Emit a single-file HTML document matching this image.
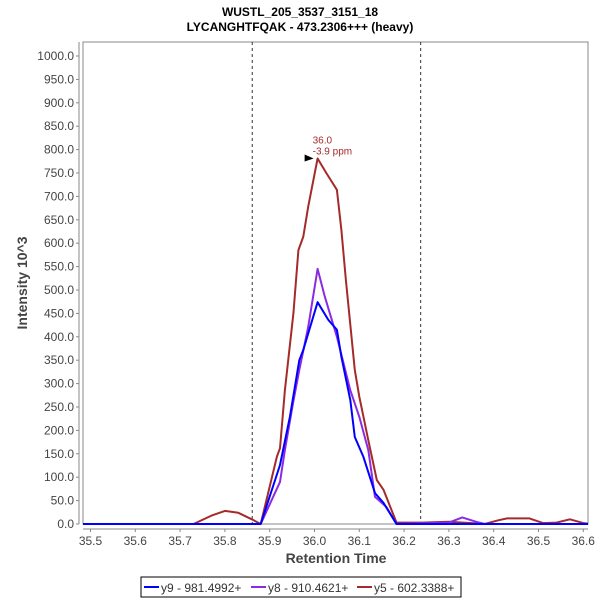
<!DOCTYPE html>
<html><head><meta charset="utf-8"><style>
body{margin:0;background:#fff;}
svg{font-family:"Liberation Sans",sans-serif;}
</style></head><body>
<svg id="chart" width="600" height="600" xmlns="http://www.w3.org/2000/svg">
<defs><clipPath id="pc"><rect x="83" y="42" width="505" height="484"/></clipPath></defs>
<rect width="600" height="600" fill="#fff"/>
<text x="300" y="16" text-anchor="middle" font-size="12" font-weight="bold">WUSTL_205_3537_3151_18</text>
<text x="300" y="31" text-anchor="middle" font-size="12" font-weight="bold">LYCANGHTFQAK - 473.2306+++ (heavy)</text>
<rect x="83" y="42" width="505" height="482" fill="#fff" stroke="#888" stroke-width="1"/>
<g id="yaxis"></g>
<g id="xaxis"></g>
<g id="series" clip-path="url(#pc)"></g>
<g id="annot"></g>
<text transform="translate(27,283) rotate(-90)" text-anchor="middle" font-size="14" font-weight="bold" fill="#444">Intensity 10^3</text>
<text x="336" y="563" text-anchor="middle" font-size="14" font-weight="bold" fill="#444">Retention Time</text>
<g>
<rect x="141" y="577" width="320" height="20" fill="#fff" stroke="#000" stroke-width="1"/>
<g><line x1="144" y1="587" x2="159" y2="587" stroke="#0000ff" stroke-width="2"/><text x="161" y="592" font-size="12" fill="#333">y9 - 981.4992+</text></g>
<g><line x1="251" y1="587" x2="266" y2="587" stroke="#8a2be2" stroke-width="2"/><text x="268" y="592" font-size="12" fill="#333">y8 - 910.4621+</text></g>
<g><line x1="357" y1="587" x2="372" y2="587" stroke="#a52a2a" stroke-width="2"/><text x="374" y="592" font-size="12" fill="#333">y5 - 602.3388+</text></g>
</g>
</svg>
<script>
const xTicks=[35.5,35.6,35.7,35.8,35.9,36.0,36.1,36.2,36.3,36.4,36.5,36.6];
const yTicks=[0,50,100,150,200,250,300,350,400,450,500,550,600,650,700,750,800,850,900,950,1000];
const boundaries=[35.861,36.237];
const y9T=[35.48,35.88,35.923,35.945,35.966,35.975,36.007,36.031,36.05,36.06,36.08,36.09,36.109,36.135,36.154,36.183,36.62];
const y9V=[0,0,126,229,350,372,474,436,415,357,265,186,144,66,45,0,0];
const y8T=[35.48,35.88,35.923,35.934,35.952,35.966,35.986,36.007,36.023,36.05,36.08,36.1,36.12,36.135,36.16,36.183,36.3,36.33,36.36,36.38,36.62];
const y8V=[0,0,90,158,258,329,421,545,486,400,286,229,158,58,37,0,3,14,5,0,0];
const y5T=[35.48,35.73,35.77,35.8,35.83,35.86,35.88,35.916,35.923,35.934,35.953,35.964,35.975,35.986,36.007,36.027,36.05,36.06,36.07,36.09,36.1,36.12,36.139,36.154,36.183,36.24,36.3,36.35,36.38,36.41,36.43,36.48,36.51,36.54,36.57,36.6,36.62];
const y5V=[0,0,18,28,24,10,0,144,162,286,450,585,614,678,781,749,714,628,521,329,272,179,94,73,3,3,5,2,0,8,12,12,2,3,10,2,0];
const NS="http://www.w3.org/2000/svg";
const X=v=>90.5+(v-35.5)*448;
const Y=v=>524-v*0.468;
function mk(tag,attrs,parent){const e=document.createElementNS(NS,tag);for(const k in attrs)e.setAttribute(k,attrs[k]);parent.appendChild(e);return e;}
const ya=document.getElementById('yaxis'),xa=document.getElementById('xaxis'),sg=document.getElementById('series'),an=document.getElementById('annot');
mk('line',{x1:79,y1:42,x2:79,y2:524,stroke:'#888'},ya);
yTicks.forEach(t=>{
 mk('line',{x1:76,y1:Y(t),x2:79,y2:Y(t),stroke:'#888'},ya);
 const tx=mk('text',{x:74,y:Y(t)+4,'text-anchor':'end','font-size':'12',fill:'#444'},ya);
 tx.textContent=t.toFixed(1);
 
 
});
mk('line',{x1:83,y1:529,x2:588,y2:529,stroke:'#888'},xa);
xTicks.forEach(t=>{
 mk('line',{x1:X(t),y1:529,x2:X(t),y2:532,stroke:'#888'},xa);
 const tx=mk('text',{x:X(t),y:545,'text-anchor':'middle','font-size':'12',fill:'#444'},xa);
 tx.textContent=t.toFixed(1);
 
 
});
boundaries.forEach(b=>{
 const l=mk('line',{x1:X(b),y1:42,x2:X(b),y2:524,stroke:'#333','stroke-dasharray':'3,3'},sg);
 
 
});
function line(T,V,color,name){
 const d=T.map((t,i)=>(i?'L':'M')+X(t).toFixed(1)+','+Y(V[i]).toFixed(1)).join('');
 const p=mk('path',{d:d,fill:'none',stroke:color,'stroke-width':'2','stroke-linejoin':'round'},sg);
 
 
}
line(y5T,y5V,'#a52a2a','series-y5');
line(y8T,y8V,'#8a2be2','series-y8');
line(y9T,y9V,'#0000ff','series-y9');
const pi=y5V.indexOf(Math.max(...y5V));
const px=X(y5T[pi]),py=Y(y5V[pi]);
const ar=mk('polygon',{points:`${px-13},${py-4} ${px-4},${py} ${px-13},${py+3}`,fill:'#000'},an);


const a1=mk('text',{x:px-5,y:py-15,'font-size':'10',fill:'#a52a2a'},an);
a1.textContent=y5T[pi].toFixed(1);


const a2=mk('text',{x:px-5,y:py-4,'font-size':'10',fill:'#a52a2a'},an);
a2.textContent='-3.9 ppm';


</script>
</body></html>
